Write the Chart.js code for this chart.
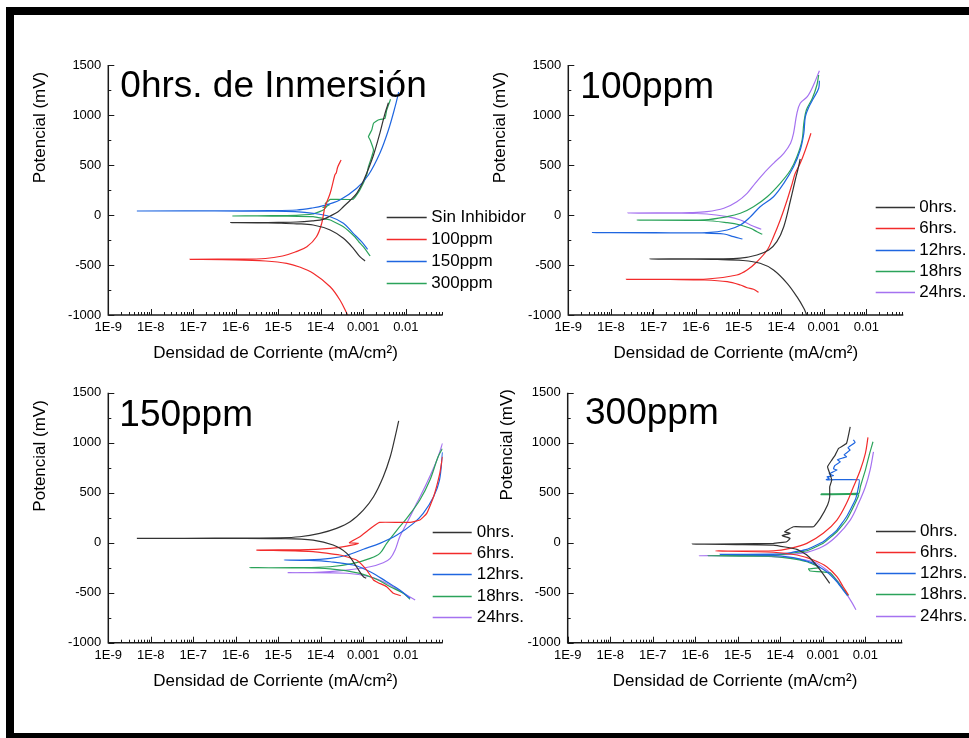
<!DOCTYPE html>
<html>
<head>
<meta charset="utf-8">
<title>Curvas de polarización</title>
<script src="https://cdn.jsdelivr.net/npm/chart.js@4.4.0/dist/chart.umd.min.js"></script>
<style>
  html, body { margin: 0; padding: 0; background: #fff; }
  body { width: 969px; height: 738px; overflow: hidden; position: relative; }
  #frame {
    position: absolute; left: 6px; top: 7px; width: 1000px; height: 734px;
    box-sizing: border-box; border-top: 8px solid #000; border-left: 8px solid #000; border-bottom: 8px solid #000;
  }
  canvas { position: absolute; }
</style>
</head>
<body>
<div id="frame"></div>
<canvas id="chartA" width="520" height="320" style="left:20px;top:50px"></canvas>
<canvas id="chartB" width="484" height="320" style="left:485px;top:50px"></canvas>
<canvas id="chartC" width="520" height="320" style="left:20px;top:378px"></canvas>
<canvas id="chartD" width="484" height="320" style="left:485px;top:378px"></canvas>
<script>
// ejes
var xTickValues = [1e-9, 1e-8, 1e-7, 1e-6, 1e-5, 1e-4, 1e-3, 1e-2];
var xTickLabels = ['1E-9', '1E-8', '1E-7', '1E-6', '1E-5', '1E-4', '0.001', '0.01'];
var yTickValues = [-1000, -500, 0, 500, 1000, 1500];

// 0hrs. de Inmersion  [densidad de corriente mA/cm2, potencial mV]
var a_sin = [[1.10e-3,-460],[8.3e-4,-417],[5.8e-4,-333],[3.4e-4,-233],[1.66e-4,-150],[6.6e-5,-100],[2.7e-5,-88],[1.0e-5,-82],[3.2e-6,-78],[7.6e-7,-77],
  [3.2e-6,-76],[1.0e-5,-74],[2.7e-5,-70],[6.3e-5,-58],[1.15e-4,-43],[1.66e-4,-10],[2.5e-4,30],[3.4e-4,83],[5.0e-4,150],[7.0e-4,217],[9.3e-4,310],[1.2e-3,417],[1.74e-3,600],[2.45e-3,817],[3.24e-3,1017],[3.9e-3,1123]];
var a_100 = [[4.27e-4,-1000],[2.82e-4,-850],[1.66e-4,-717],[6.6e-5,-583],[3.16e-5,-520],[1.58e-5,-483],[5.0e-6,-460],[1.0e-6,-448],[8.3e-8,-443],
  [1.0e-6,-441],[5.0e-6,-435],[1.26e-5,-410],[2.5e-5,-370],[4.7e-5,-317],[7.9e-5,-217],[1.05e-4,-83],[1.26e-4,83],[1.66e-4,217],[2.14e-4,400],[2.3e-4,420],[2.5e-4,480],[3.0e-4,550]];
var a_150 = [[1.26e-3,-343],[9.1e-4,-267],[5.8e-4,-183],[3.4e-4,-83],[1.66e-4,-17],[6.6e-5,17],[2.5e-5,33],[6.3e-6,38],[3.2e-7,40],[4.7e-9,40],
  [3.2e-7,42],[6.3e-6,44],[2.7e-5,50],[6.3e-5,70],[1.15e-4,93],[2.8e-4,150],[7.0e-4,267],[1.32e-3,400],[2.45e-3,617],[3.9e-3,850],[5.6e-3,1083],[6.8e-3,1230]];
var a_300 = [[1.45e-3,-410],[1.0e-3,-317],[7.9e-4,-270],[6.3e-4,-217],[3.4e-4,-117],[1.66e-4,-50],[6.6e-5,-17],[1.58e-5,-12],[3.2e-6,-10],[8.3e-7,-10],
  [3.2e-6,-8],[1.58e-5,-5],[6.6e-5,10],[1.15e-4,50],[1.41e-4,90],[1.12e-4,75],[1.58e-4,100],[1.26e-4,115],[1.51e-4,140],[1.66e-4,157],[5.75e-4,157],
  [8.3e-4,250],[1.2e-3,400],[1.32e-3,483],[1.58e-3,583],[1.74e-3,650],[1.45e-3,750],[1.32e-3,783],[1.58e-3,850],[1.74e-3,917],[2.24e-3,950],[3.24e-3,967],[3.55e-3,1050],[4.37e-3,1157]];

// 100ppm
var b_0 = [[3.98e-4,-1000],[3.4e-4,-933],[2.34e-4,-817],[1.38e-4,-683],[6.6e-5,-550],[3.2e-5,-483],[1.26e-5,-455],[3.2e-6,-445],[5.0e-7,-442],[8.3e-8,-440],
  [5.0e-7,-439],[3.2e-6,-438],[1.1e-5,-432],[2.7e-5,-400],[5.1e-5,-350],[7.9e-5,-267],[1.15e-4,-117],[1.66e-4,150],[2.14e-4,350],[2.45e-4,450],[2.8e-4,560]];
var b_6 = [[2.95e-5,-773],[2.24e-5,-743],[1.58e-5,-727],[1.1e-5,-700],[5.4e-6,-667],[1.58e-6,-650],[2.5e-7,-645],[2.3e-8,-643],
  [2.5e-7,-643],[1.8e-6,-640],[9.1e-6,-600],[1.58e-5,-550],[2.7e-5,-467],[4.7e-5,-350],[6.6e-5,-217],[9.5e-5,-50],[1.38e-4,150],[1.82e-4,317],[2.14e-4,417],[2.8e-4,517],[3.7e-4,650],[5.0e-4,817]];
var b_12 = [[1.23e-5,-240],[7.6e-6,-217],[4.5e-6,-190],[1.58e-6,-180],[1.0e-7,-178],[3.7e-9,-177],
  [1.0e-7,-177],[1.8e-6,-175],[5.4e-6,-150],[1.1e-5,-100],[1.9e-5,-17],[3.2e-5,83],[6.6e-5,183],[1.15e-4,317],[1.95e-4,483],[2.8e-4,650],[3.4e-4,817],[3.7e-4,983],[4.5e-4,1083],[5.75e-4,1167],[7.6e-4,1267],[7.9e-4,1343]];
var b_18 = [[3.6e-5,-193],[2.7e-5,-167],[1.9e-5,-133],[1.1e-5,-100],[5.4e-6,-77],[1.58e-6,-55],[4.1e-8,-50],
  [1.58e-6,-48],[5.4e-6,-17],[1.1e-5,17],[2.24e-5,83],[4.7e-5,183],[9.5e-5,317],[1.66e-4,450],[2.34e-4,583],[3.1e-4,750],[3.4e-4,917],[3.9e-4,1050],[5.4e-4,1167],[6.9e-4,1300],[7.6e-4,1400]];
var b_24 = [[3.4e-5,-143],[1.9e-5,-100],[1.1e-5,-50],[5.4e-6,-17],[1.8e-6,10],[3.2e-7,18],[2.5e-8,20],
  [3.2e-7,22],[7.2e-7,23],[1.8e-6,33],[4.5e-6,67],[9.1e-6,133],[1.58e-5,217],[2.45e-5,317],[3.9e-5,417],[6.6e-5,517],[1.15e-4,617],[1.66e-4,717],[1.95e-4,817],[2.34e-4,1017],[2.8e-4,1117],[4.1e-4,1183],[5.75e-4,1300],[7.9e-4,1443]];

// 150ppm
var c_0 = [[1.17e-3,-355],[1.0e-3,-340],[6.9e-4,-240],[4.1e-4,-106],[1.95e-4,-23],[6.6e-5,27],[1.1e-5,42],[3.2e-7,44],[4.7e-9,44],
  [3.2e-7,46],[1.1e-5,50],[3.2e-5,60],[9.5e-5,94],[2.34e-4,144],[4.9e-4,210],[1.0e-3,327],[1.74e-3,460],[2.95e-3,660],[4.3e-3,860],[5.6e-3,1060],[6.8e-3,1220]];
var c_6 = [[7.6e-3,-530],[5.1e-3,-506],[3.55e-3,-440],[2.24e-3,-400],[1.74e-3,-373],[1.2e-3,-273],[6.9e-4,-173],[2.8e-4,-123],[6.6e-5,-88],[3.1e-6,-73],
  [3.2e-5,-71],[1.66e-4,-56],[4.1e-4,-33],[7.6e-4,-6],[4.7e-4,0],[8.3e-4,60],[1.32e-3,127],[1.9e-3,177],[2.4e-3,204],[1.26e-2,204],[2.14e-2,227],[3.1e-2,294],[4.5e-2,460],[6.3e-2,694],[7.3e-2,860]];
var c_12 = [[1.26e-2,-556],[7.2e-3,-473],[3.55e-3,-390],[1.45e-3,-290],[5.8e-4,-223],[1.66e-4,-190],[5.0e-5,-177],[1.38e-5,-173],
  [5.0e-5,-172],[1.66e-4,-156],[4.1e-4,-125],[1.0e-3,-65],[2.45e-3,-6],[6.2e-3,77],[1.51e-2,194],[2.57e-2,294],[4.5e-2,460],[6.2e-2,627],[7.3e-2,905]];
var c_18 = [[1.26e-2,-566],[8.7e-3,-506],[4.3e-3,-440],[2.04e-3,-366],[8.3e-4,-306],[1.66e-4,-262],[2.5e-5,-252],[2.1e-6,-250],
  [2.5e-5,-249],[1.66e-4,-240],[5.8e-4,-206],[1.45e-3,-156],[2.45e-3,-106],[3.55e-3,-6],[6.2e-3,127],[1.05e-2,244],[2.14e-2,427],[3.7e-2,627],[5.75e-2,860],[7.2e-2,940]];
var c_24 = [[1.66e-2,-573],[8.7e-3,-503],[3.55e-3,-406],[1.45e-3,-340],[4.1e-4,-305],[1.74e-5,-300],
  [6.3e-5,-298],[4.1e-4,-273],[1.45e-3,-240],[2.95e-3,-200],[4.3e-3,-156],[5.6e-3,-73],[7.2e-3,60],[1.05e-2,194],[1.8e-2,394],[3.1e-2,594],[5.4e-2,827],[7.3e-2,994]];

// 300ppm
var d_0 = [[1.45e-3,-406],[1.2e-3,-356],[8.7e-4,-273],[6.0e-4,-190],[4.2e-4,-123],[2.45e-4,-66],[6.9e-5,-23],[1.0e-5,-18],[8.5e-7,-13],
  [1.0e-5,-12],[6.9e-5,-6],[1.41e-4,10],[1.7e-4,44],[1.1e-4,70],[1.7e-4,94],[1.26e-4,110],[2.04e-4,160],[6.0e-4,160],[8.7e-4,244],[1.29e-3,377],
  [1.45e-3,460],[1.45e-3,560],[1.62e-3,627],[1.45e-3,694],[1.29e-3,760],[1.62e-3,827],[1.95e-3,877],[2.34e-3,944],[3.6e-3,994],[4.4e-3,1160]];
var d_6 = [[4.0e-3,-523],[3.0e-3,-440],[2.14e-3,-340],[1.23e-3,-240],[6.0e-4,-173],[2.45e-4,-123],[6.9e-5,-95],[3.0e-6,-83],
  [6.9e-5,-80],[1.7e-4,-56],[4.2e-4,-6],[1.02e-3,94],[2.14e-3,227],[3.6e-3,394],[5.25e-3,560],[7.6e-3,727],[1.0e-2,894],[1.15e-2,1054]];
var d_12 = [[3.8e-3,-530],[3.0e-3,-473],[2.14e-3,-390],[1.23e-3,-290],[6.0e-4,-206],[2.45e-4,-156],[6.9e-5,-125],[3.8e-6,-116],
  [6.9e-5,-114],[1.7e-4,-100],[4.2e-4,-66],[1.02e-3,10],[2.14e-3,127],[3.6e-3,260],[5.75e-3,427],[6.9e-3,560],[7.1e-3,630],[1.2e-3,630],
  [1.41e-3,645],[1.26e-3,660],[1.78e-3,670],[1.41e-3,690],[1.58e-3,700],[2.14e-3,727],[1.78e-3,740],[1.9e-3,770],[2.57e-3,810],[2.2e-3,830],
  [3.6e-3,860],[3.16e-3,880],[4.4e-3,927],[3.9e-3,950],[5.75e-3,1004],[5.2e-3,1030]];
var d_18 = [[4.0e-3,-530],[3.0e-3,-463],[2.14e-3,-380],[1.48e-3,-300],[5.0e-4,-283],[4.6e-4,-262],[8.7e-4,-248],[4.2e-4,-190],[1.7e-4,-156],[5.0e-5,-135],[2.0e-6,-130],
  [5.0e-5,-128],[1.7e-4,-106],[4.2e-4,-80],[1.02e-3,-6],[2.14e-3,110],[3.6e-3,227],[5.75e-3,394],[6.9e-3,480],[9.1e-4,480],[7.0e-3,488],[9.1e-4,488],[7.1e-3,496],
  [7.6e-3,560],[1.0e-2,727],[1.26e-2,894],[1.51e-2,1010]];
var d_24 = [[6.0e-3,-670],[4.8e-3,-596],[3.4e-3,-496],[2.14e-3,-373],[1.23e-3,-273],[6.0e-4,-190],[1.7e-4,-150],[3.2e-5,-133],[1.23e-6,-130],
  [3.2e-5,-127],[1.7e-4,-116],[4.2e-4,-96],[1.02e-3,-36],[2.14e-3,70],[4.4e-3,227],[6.9e-3,394],[1.0e-2,560],[1.29e-2,727],[1.55e-2,910]];

var namesA = ['Sin Inhibidor', '100ppm', '150ppm', '300ppm'];
var namesB = ['0hrs.', '6hrs.', '12hrs.', '18hrs', '24hrs.'];
var namesCD = ['0hrs.', '6hrs.', '12hrs.', '18hrs.', '24hrs.'];

var colores = ['#333333', '#f22b2b', '#1f66e0', '#2ba35a', '#a572f0'];
var fuente = '"Liberation Sans", Arial, Helvetica, sans-serif';

Chart.defaults.font.family = fuente;
Chart.defaults.color = '#000';

// ejes con ticks hacia adentro, titulo, leyenda
var decorPlugin = {
  id: 'decor',
  afterDatasetsDraw: function(chart, args, opts) {
    var ctx = chart.ctx, a = chart.chartArea, xs = chart.scales.x, ys = chart.scales.y;
    ctx.save();
    ctx.strokeStyle = '#1a1a1a';
    ctx.lineWidth = 1.5;
    ctx.beginPath();
    ctx.moveTo(a.left, a.top);
    ctx.lineTo(a.left, a.bottom);
    ctx.lineTo(a.right, a.bottom);
    ctx.stroke();

    ctx.lineWidth = 1;
    ctx.beginPath();
    for (var e = -9; e <= -2; e++) {
      for (var k = 1; k <= 9; k++) {
        var v = k * Math.pow(10, e);
        if (v > xs.max) break;
        var px = Math.round(xs.getPixelForValue(v)) + 0.5;
        ctx.moveTo(px, a.bottom);
        ctx.lineTo(px, a.bottom - (k === 1 ? 6 : 3));
      }
    }
    for (var m = yTickValues[0]; m <= yTickValues[yTickValues.length - 1]; m += 250) {
      var py = Math.round(ys.getPixelForValue(m)) + 0.5;
      ctx.moveTo(a.left, py);
      ctx.lineTo(a.left + (m % 500 === 0 ? 6 : 3), py);
    }
    ctx.stroke();

    // titulo grande
    ctx.fillStyle = '#000';
    ctx.textAlign = 'left';
    ctx.textBaseline = 'alphabetic';
    ctx.font = '37px ' + fuente;
    ctx.fillText(opts.title, a.left + opts.titleAt[0], a.top + opts.titleAt[1]);

    // titulo eje y
    ctx.save();
    ctx.translate(a.left + opts.yTitleAt[0], a.top + opts.yTitleAt[1]);
    ctx.rotate(-Math.PI / 2);
    ctx.font = '17px ' + fuente;
    ctx.textAlign = 'center';
    ctx.textBaseline = 'middle';
    ctx.fillText('Potencial (mV)', 0, 0);
    ctx.restore();

    // leyenda
    var L = opts.legend;
    ctx.font = '17px ' + fuente;
    ctx.textBaseline = 'middle';
    chart.data.datasets.forEach(function(ds, i) {
      var ly = Math.round(a.top + L.y0 + i * L.dy) + 0.5;
      ctx.strokeStyle = ds.borderColor;
      ctx.lineWidth = 1.5;
      ctx.beginPath();
      ctx.moveTo(a.left + L.x1, ly);
      ctx.lineTo(a.left + L.x2, ly);
      ctx.stroke();
      ctx.fillStyle = '#000';
      ctx.fillText(ds.label, a.left + L.tx, ly);
    });
    ctx.restore();
  }
};

function makeChart(id, names, series, tensions, box, deco) {
  var canvas = document.getElementById(id);
  var datasets = series.map(function(s, i) {
    return {
      label: names[i],
      data: s.map(function(p) { return { x: p[0], y: p[1] }; }),
      borderColor: colores[i],
      backgroundColor: colores[i],
      borderWidth: 1.2,
      showLine: true,
      pointRadius: 0,
      tension: tensions[i],
      fill: false
    };
  });
  var yWidth = box.left - box.cx;
  var xHeight = 49;
  return new Chart(canvas, {
    type: 'scatter',
    data: { datasets: datasets },
    plugins: [decorPlugin],
    options: {
      responsive: false,
      animation: false,
      devicePixelRatio: 1,
      layout: {
        padding: {
          left: 0,
          top: box.top - box.cy,
          right: canvas.width - (box.right - box.cx),
          bottom: canvas.height - (box.bottom - box.cy) - xHeight
        }
      },
      plugins: {
        legend: { display: false },
        tooltip: { enabled: false },
        decor: deco
      },
      scales: {
        x: {
          type: 'logarithmic',
          min: 1e-9,
          max: 0.0738,
          grid: { display: false, drawTicks: false },
          border: { display: false },
          afterBuildTicks: function(scale) {
            scale.ticks = xTickValues.map(function(v) { return { value: v }; });
          },
          afterFit: function(scale) { scale.height = xHeight; },
          ticks: {
            autoSkip: false,
            maxRotation: 0,
            padding: 5,
            font: { size: 13 },
            color: '#000',
            callback: function(value, index) { return xTickLabels[index]; }
          },
          title: {
            display: true,
            text: 'Densidad de Corriente (mA/cm²)',
            font: { size: 17 },
            color: '#000',
            padding: 0
          }
        },
        y: {
          type: 'linear',
          min: yTickValues[0],
          max: yTickValues[yTickValues.length - 1],
          grid: { display: false, drawTicks: false },
          border: { display: false },
          afterBuildTicks: function(scale) {
            scale.ticks = yTickValues.map(function(v) { return { value: v }; });
          },
          afterFit: function(scale) { scale.width = yWidth; },
          ticks: {
            padding: 7,
            font: { size: 13 },
            color: '#000',
            callback: function(value) { return String(value); }
          }
        }
      }
    }
  });
}

makeChart('chartA', namesA, [a_sin, a_100, a_150, a_300], [0.35, 0.35, 0.35, 0.1],
  { cx: 20, cy: 50, left: 108.3, top: 65, right: 442.7, bottom: 315 },
  { title: '0hrs. de Inmersión', titleAt: [12, 31.7], yTitleAt: [-67.5, 62.5],
    legend: { x1: 278.4, x2: 318.4, tx: 323, y0: 152.3, dy: 22 } });

makeChart('chartB', namesB, [b_0, b_6, b_12, b_18, b_24], [0.35, 0.35, 0.35, 0.35, 0.35],
  { cx: 485, cy: 50, left: 568.3, top: 65, right: 903.3, bottom: 315 },
  { title: '100ppm', titleAt: [12, 32.7], yTitleAt: [-67.8, 62.5],
    legend: { x1: 307.4, x2: 346.7, tx: 351, y0: 141.7, dy: 21.4 } });

makeChart('chartC', namesCD, [c_0, c_6, c_12, c_18, c_24], [0.35, 0.15, 0.35, 0.35, 0.35],
  { cx: 20, cy: 378, left: 108.3, top: 392.7, right: 442.7, bottom: 642.7 },
  { title: '150ppm', titleAt: [11, 33.3], yTitleAt: [-67.8, 63.1],
    legend: { x1: 324.4, x2: 363.4, tx: 368.4, y0: 139, dy: 21.25 } });

makeChart('chartD', namesCD, [d_0, d_6, d_12, d_18, d_24], [0.1, 0.35, 0.1, 0.1, 0.35],
  { cx: 485, cy: 378, left: 567.7, top: 392.7, right: 902.3, bottom: 642.7 },
  { title: '300ppm', titleAt: [17.3, 31.6], yTitleAt: [-60.2, 52],
    legend: { x1: 308.3, x2: 348, tx: 352.3, y0: 138, dy: 21.2 } });
</script>
</body>
</html>
